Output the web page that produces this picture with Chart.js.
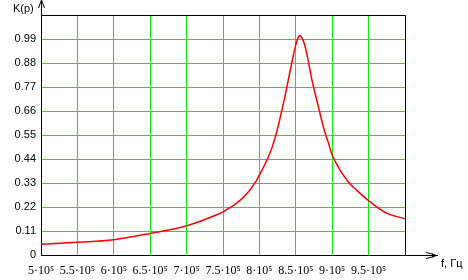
<!DOCTYPE html>
<html>
<head>
<meta charset="utf-8">
<script src="https://cdn.jsdelivr.net/npm/chart.js@4.4.1/dist/chart.umd.min.js"></script>
<style>
    html, body { margin: 0; padding: 0; background: #fff; }
    #wrap { width: 468px; height: 280px; }
</style>
</head>
<body>
<div id="wrap"><canvas id="kChart" width="468" height="280"></canvas></div>
<script>
// frequency f, Hz
const freqHz = [500000, 550000, 600000, 650000, 700000, 746000, 762000, 773000, 785000, 795000,
    800000, 812000, 821000, 832000, 842000, 847000, 850000, 855000, 860000,
    865000, 872000, 881000, 889000, 895000, 900000, 911000, 922000, 930000, 950000, 974000, 1000000];
// K(p) values
const kValues = [0.049, 0.058, 0.070, 0.099, 0.134, 0.191, 0.222, 0.249, 0.290, 0.336,
    0.367, 0.447, 0.530, 0.680, 0.840, 0.920, 0.962, 1.005, 0.985,
    0.924, 0.805, 0.680, 0.573, 0.512, 0.458, 0.388, 0.336, 0.308, 0.249, 0.193, 0.166];

const xTickValues = [500000, 550000, 600000, 650000, 700000, 750000, 800000, 850000, 900000, 950000, 1000000];
const xTickLabels = ['5·10⁵', '5.5·10⁵', '6·10⁵', '6.5·10⁵', '7·10⁵', '7.5·10⁵', '8·10⁵', '8.5·10⁵', '9·10⁵', '9.5·10⁵', ''];
const yTickValues = [0, 0.11, 0.22, 0.33, 0.44, 0.55, 0.66, 0.77, 0.88, 0.99, 1.1];
const yTickLabels = ['0', '0.11', '0.22', '0.33', '0.44', '0.55', '0.66', '0.77', '0.88', '0.99', ''];

const gridGreen = '#10ea10';

// рамка, стрелки осей и подписи
const axisDecor = {
    id: 'axisDecor',
    afterDraw(chart) {
        const ctx = chart.ctx;
        const a = chart.chartArea;
        ctx.save();
        ctx.strokeStyle = '#000';
        ctx.fillStyle = '#000';
        ctx.lineWidth = 1;
        ctx.beginPath();
        ctx.moveTo(a.left, a.top + 0.5);
        ctx.lineTo(a.right + 0.5, a.top + 0.5);
        ctx.lineTo(a.right + 0.5, a.bottom);
        // y axis up to the arrow
        ctx.moveTo(a.left + 0.5, a.top);
        ctx.lineTo(a.left + 0.5, 1);
        // x axis to the arrow
        ctx.moveTo(a.right, a.bottom + 0.5);
        ctx.lineTo(a.right + 33, a.bottom + 0.5);
        ctx.stroke();

        // arrow heads
        ctx.beginPath();
        ctx.moveTo(a.left - 2.5, 8);
        ctx.lineTo(a.left + 0.5, 0);
        ctx.lineTo(a.left + 3.5, 8);
        ctx.stroke();

        const ax = a.right + 33;
        const ay = a.bottom + 0.5;
        ctx.beginPath();
        ctx.moveTo(ax - 12, ay - 3);
        ctx.lineTo(ax - 4, ay - 1);
        ctx.moveTo(ax - 12, ay + 3);
        ctx.lineTo(ax - 4, ay + 1);
        ctx.stroke();
        ctx.beginPath();
        ctx.moveTo(ax - 6, ay - 2);
        ctx.lineTo(ax, ay);
        ctx.lineTo(ax - 6, ay + 2);
        ctx.closePath();
        ctx.fill();

        ctx.font = '11px "Liberation Sans", Arial, sans-serif';
        ctx.textBaseline = 'middle';
        ctx.textAlign = 'left';
        ctx.fillText('K(p)', 13, 9);
        ctx.fillText('f, Гц', 441, 264);
        ctx.restore();
    }
};

document.addEventListener('DOMContentLoaded', () => {
    const ctx = document.getElementById('kChart').getContext('2d');
    new Chart(ctx, {
        type: 'line',
        data: {
            datasets: [{
                label: 'K(p)',
                data: freqHz.map((f, i) => ({ x: f, y: kValues[i] })),
                borderColor: '#ff0000',
                borderWidth: 1.5,
                pointRadius: 0,
                fill: false,
                tension: 0.4
            }]
        },
        options: {
            responsive: false,
            animation: false,
            layout: { padding: { top: 15, right: 63, left: 0, bottom: 0 } },
            plugins: {
                legend: { display: false },
                tooltip: { enabled: false }
            },
            scales: {
                x: {
                    type: 'linear',
                    min: 500000,
                    max: 1000000,
                    afterBuildTicks: scale => {
                        scale.ticks = xTickValues.map(v => ({ value: v }));
                    },
                    afterFit: scale => { scale.height = 25; },
                    ticks: {
                        callback: (v, i) => xTickLabels[i],
                        autoSkip: false,
                        maxRotation: 0,
                        padding: 9,
                        color: '#000',
                        font: { family: '"Liberation Serif", "Times New Roman", serif', size: 12 }
                    },
                    grid: { color: gridGreen, lineWidth: 1, drawTicks: false },
                    border: { display: true, color: '#000', width: 1 }
                },
                y: {
                    type: 'linear',
                    min: 0,
                    max: 1.1,
                    afterBuildTicks: scale => {
                        scale.ticks = yTickValues.map(v => ({ value: v }));
                    },
                    afterFit: scale => { scale.width = 41; },
                    ticks: {
                        callback: (v, i) => yTickLabels[i],
                        autoSkip: false,
                        padding: 5,
                        color: '#000',
                        font: { family: '"Liberation Sans", Arial, sans-serif', size: 11 }
                    },
                    grid: { color: gridGreen, lineWidth: 1, drawTicks: false },
                    border: { display: true, color: '#000', width: 1 }
                }
            }
        },
        plugins: [axisDecor]
    });
});
</script>
</body>
</html>
